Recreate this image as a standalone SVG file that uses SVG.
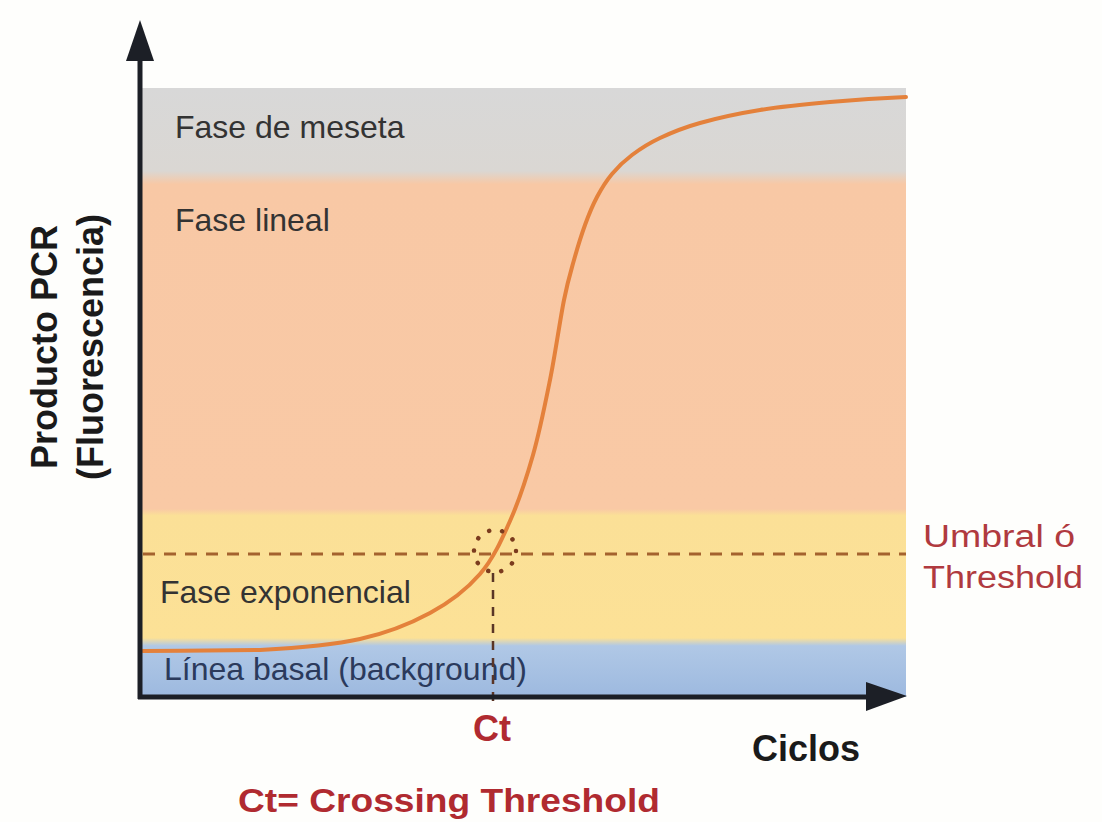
<svg xmlns="http://www.w3.org/2000/svg" width="1102" height="822" viewBox="0 0 1102 822">
<defs>
<linearGradient id="bands" x1="0" y1="0" x2="0" y2="1">
<stop offset="0" stop-color="#d8d8d8"/>
<stop offset="0.136" stop-color="#dad7d3"/>
<stop offset="0.158" stop-color="#f8c8a5"/>
<stop offset="0.691" stop-color="#f9c9a5"/>
<stop offset="0.702" stop-color="#fbe097"/>
<stop offset="0.903" stop-color="#fce196"/>
<stop offset="0.916" stop-color="#b0c8e6"/>
<stop offset="1" stop-color="#9db9df"/>
</linearGradient>
<style>
.phase{font-family:"Liberation Sans",Arial,sans-serif;font-size:32px;fill:#333333}
.basal{fill:#2b3a5c}
.axlab{font-family:"Liberation Sans",Arial,sans-serif;font-weight:bold;font-size:36px;fill:#1a1a1a}
.red{font-family:"Liberation Sans",Arial,sans-serif;fill:#b03a3f}
.redb{font-family:"Liberation Sans",Arial,sans-serif;font-weight:bold;fill:#b02a30}
.axis{stroke:#1c1f26;stroke-width:5;fill:none}
</style>
</defs>
<rect width="1102" height="822" fill="#fefefc"/>
<g id="plot-bands">
<rect x="142" y="88" width="764" height="609" fill="url(#bands)"/>
</g>
<g id="phase-labels">
<text id="t-meseta" class="phase" x="175" y="138">Fase de meseta</text>
<text id="t-lineal" class="phase" x="175" y="231">Fase lineal</text>
<text id="t-expo" class="phase" x="160" y="603" font-size="31">Fase exponencial</text>
<text id="t-basal" class="phase basal" x="164" y="680">Línea basal (background)</text>
</g>
<g id="connectors">
<line x1="143" y1="554" x2="906" y2="554" stroke="#a4622e" stroke-width="3" stroke-dasharray="12 9"/>
<line x1="493" y1="573" x2="493" y2="708" stroke="#5a3526" stroke-width="2.5" stroke-dasharray="9 8"/>
<path id="curve" fill="none" stroke="#e4813b" stroke-width="4" stroke-linecap="round" d="M143,651 C182,651 224,650.5 260,650 C296.2,648 331.7,645.2 360,639 C388.3,632.8 410,623.8 430,613 C450,602.2 466.7,589.3 480,574 C493.3,558.7 501.2,540.8 510,521 C518.8,501.2 526.3,478.5 533,455 C539.7,431.5 544.8,405.8 550,380 C555.2,354.2 560,320 564,300 C568,280 570.5,272.5 574,260 C577.5,247.5 581.2,235.5 585,225 C588.8,214.5 592.5,205.5 597,197 C601.5,188.5 606.2,181 612,174 C617.8,167 624,161 632,155 C640,149 648.7,143.3 660,138 C671.3,132.7 683.3,127.7 700,123 C716.7,118.3 738.3,113.5 760,110 C781.7,106.5 805.7,104.2 830,102 C854.3,99.8 880.7,98 906,97"/>
<circle cx="495" cy="551" r="21" fill="none" stroke="#7b3b1e" stroke-width="4.5" stroke-linecap="round" stroke-dasharray="0.1 13.09"/>
</g>
<g id="axes">
<line class="axis" x1="140" y1="699" x2="140" y2="56"/>
<polygon points="140,20 126,61 154,61" fill="#1c1f26"/>
<line class="axis" x1="138" y1="697" x2="870" y2="697"/>
<polygon points="907,696 866,682 866,711" fill="#1c1f26"/>
</g>
<g id="axis-labels">
<text class="axlab" transform="translate(57,347) rotate(-90)" text-anchor="middle">Producto PCR</text>
<text class="axlab" transform="translate(103,347) rotate(-90)" text-anchor="middle">(Fluorescencia)</text>
<text class="axlab" x="752" y="761" font-size="35">Ciclos</text>
</g>
<g id="threshold-label">
<text class="red" x="923" y="547" font-size="31" textLength="152" lengthAdjust="spacingAndGlyphs">Umbral ó</text>
<text class="red" x="923" y="588" font-size="31" textLength="160" lengthAdjust="spacingAndGlyphs">Threshold</text>
</g>
<g id="ct-labels">
<text class="redb" x="492" y="741" font-size="36" text-anchor="middle">Ct</text>
<text class="redb" x="238" y="812" font-size="33" textLength="422" lengthAdjust="spacingAndGlyphs">Ct= Crossing Threshold</text>
</g>
</svg>
